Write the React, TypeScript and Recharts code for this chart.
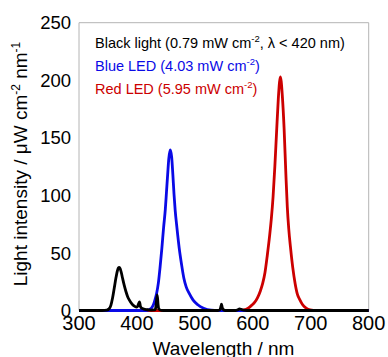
import React from "react";
import { LineChart, Line, XAxis, YAxis, ReferenceArea, Customized } from "recharts";

const xTicks = [300, 400, 500, 600, 700, 800];
const yTicks = [0, 50, 100, 150, 200, 250];

const blackW = [300, 340, 348, 352, 355, 358, 361, 364, 366, 368, 369.5, 371, 373, 375, 378, 381, 384, 387, 391, 395, 399, 401, 403, 404.5, 406, 408, 412, 416, 420, 425, 430, 432, 433.5, 435, 436.5, 438, 442, 450, 540, 543, 545, 546, 547, 549, 552, 570, 574, 577, 580, 584, 590, 800];
const blackV = [0, 0, 0.3, 1.5, 4.5, 11, 20, 29, 34, 37, 37.5, 36.5, 33, 28.5, 22, 16.5, 12, 9, 6, 4, 3, 3.5, 6, 7.5, 3.5, 2, 1.2, 0.8, 0.6, 0.4, 0.5, 1.5, 7, 13.5, 5, 1.2, 0.2, 0, 0, 0.5, 3.5, 5.5, 3, 0.8, 0, 0, 0.6, 1.3, 1, 0.3, 0, 0];

const blueW = [300, 415, 420, 425, 428, 431, 434, 437, 440, 443, 446, 449, 451, 453, 455, 457.5, 460, 462, 464, 466, 469, 473, 477, 481, 485, 490, 497, 505, 515, 528, 540, 800];
const blueV = [0, 0, 0.5, 2, 4.5, 9, 15, 24, 38, 54, 72, 88, 103, 118, 132, 139.5, 133, 118, 101, 87, 72, 54, 40, 28, 20.5, 15, 9, 5, 2, 0.3, 0, 0];

const redW = [300, 575, 585, 592, 598, 603, 608, 613, 617, 621, 625, 629, 632, 635, 638, 641, 644, 646, 647.5, 649, 651, 654, 657, 659.5, 662, 665, 669, 673, 677, 681, 686, 692, 699, 710, 800];
const redV = [0, 0, 0.5, 2, 4.5, 7, 11, 17, 23.5, 33, 48, 65, 80, 99, 125, 155, 184, 198, 203, 199, 186, 158, 119, 90, 71, 55, 37, 23.5, 14, 9.5, 5, 2, 0.5, 0, 0];

const toRows = (w: number[], v: number[]) => w.map((x, i) => ({ w: x, v: v[i] }));
const blackData = toRows(blackW, blackV);
const blueData = toRows(blueW, blueV);
const redData = toRows(redW, redV);

const FONT = "'Liberation Sans', Arial, sans-serif";
const BLUE = "#0a0ae6";
const RED = "#cc0000";
const FRAME = "#b4b4b4";

const LegendText = () => (
  <g fontFamily={FONT} fontSize={14.5}>
    <text x={95} y={47.5} fill="#000">
      <tspan>Black light (0.79 mW cm</tspan>
      <tspan dy={-6} fontSize={9.5}>-2</tspan>
      <tspan dy={6}>{", λ < 420 nm)"}</tspan>
    </text>
    <text x={95} y={70.5} fill={BLUE}>
      <tspan>Blue LED (4.03 mW cm</tspan>
      <tspan dy={-6} fontSize={9.5}>-2</tspan>
      <tspan dy={6}>)</tspan>
    </text>
    <text x={95} y={93.5} fill={RED}>
      <tspan>Red LED (5.95 mW cm</tspan>
      <tspan dy={-6} fontSize={9.5}>-2</tspan>
      <tspan dy={6}>)</tspan>
    </text>
  </g>
);

const Titles = () => (
  <g fontFamily={FONT} fontSize={19} fill="#000">
    <text x={223.5} y={355} textAnchor="middle">Wavelength / nm</text>
    <text x={27} y={164} textAnchor="middle" transform="rotate(-90, 27, 164)">
      <tspan>Light intensity / μW cm</tspan>
      <tspan dy={-7} fontSize={12}>-2</tspan>
      <tspan dy={7}> nm</tspan>
      <tspan dy={-7} fontSize={12}>-1</tspan>
    </text>
  </g>
);

export default function App() {
  return (
    <div style={{ position: "absolute", left: 0, top: 0 }}>
      <LineChart
        width={388}
        height={357}
        margin={{ top: 22.7, right: 19.3, left: 0, bottom: 16.5 }}
      >
        <XAxis
          dataKey="w"
          type="number"
          domain={[300, 800]}
          ticks={xTicks}
          allowDuplicatedCategory={false}
          height={30}
          axisLine={false}
          tickLine={false}
          tickSize={0}
          tickMargin={5}
          tick={{ fontSize: 20, fill: "#000", fontFamily: FONT }}
        />
        <YAxis
          type="number"
          domain={[0, 250]}
          ticks={yTicks}
          width={79}
          axisLine={false}
          tickLine={false}
          tickSize={0}
          tickMargin={8}
          tick={{ fontSize: 18.5, fill: "#000", fontFamily: FONT }}
        />
        <ReferenceArea
          x1={300}
          x2={800}
          y1={0}
          y2={250}
          fill="none"
          stroke={FRAME}
          strokeWidth={1}
          ifOverflow="visible"
        />
        <Line data={redData} dataKey="v" type="monotone" stroke={RED} strokeWidth={2.8} dot={false} isAnimationActive={false} />
        <Line data={blueData} dataKey="v" type="monotone" stroke={BLUE} strokeWidth={2.8} dot={false} isAnimationActive={false} />
        <Line data={blackData} dataKey="v" type="monotone" stroke="#000" strokeWidth={2.8} dot={false} isAnimationActive={false} />
        <Customized component={LegendText} />
        <Customized component={Titles} />
      </LineChart>
    </div>
  );
}
